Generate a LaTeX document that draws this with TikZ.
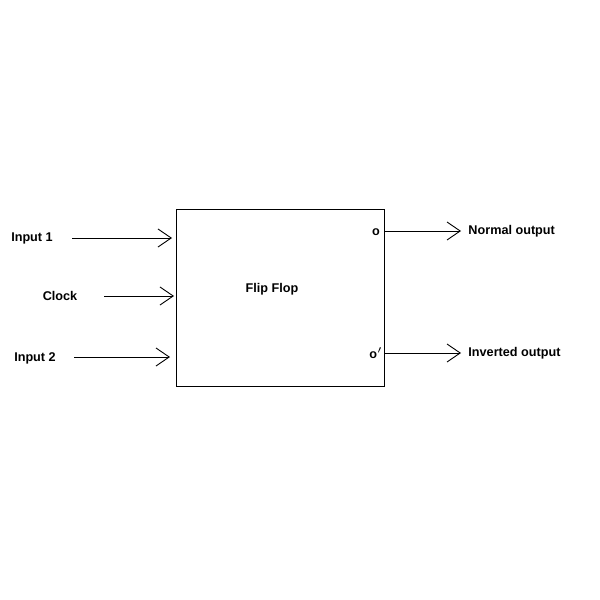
\documentclass[tikz,border=0pt]{standalone}
\usepackage{fontspec}
\setmainfont{Liberation Sans}
\usetikzlibrary{arrows.meta}
\tikzstyle{tsLabel} = [
    text=black,
    font=\fontsize{6}{7}\selectfont\bfseries
]
\tikzstyle{tsArrow} = [
    -{Straight Barb[length=2.2mm,width=3mm]}, line width=0.15mm
]
\begin{document}
\begin{tikzpicture}[x=0.016667cm, y=-0.016667cm]
        \useasboundingbox (0,0) rectangle (600,600);

        \draw[line width=0.15mm] (176,209) rectangle (384,386);
        \node[tsLabel] (ff) at (272,289) {Flip Flop};

        \node[tsLabel] (in1) at (32,238) {Input 1};
        \node[tsLabel] (clk) at (60,296) {Clock};
        \node[tsLabel] (in2) at (35,358) {Input 2};

        \coordinate (e1) at (172,238);
        \coordinate (e2) at (174,296);
        \coordinate (e3) at (170,357);
        \coordinate (s1) at (72,238);
        \coordinate (s2) at (104,296);
        \coordinate (s3) at (74,357);
        \draw[tsArrow] (s1) -- (e1);
        \draw[tsArrow] (s2) -- (e2);
        \draw[tsArrow] (s3) -- (e3);

        \node[tsLabel] (q) at (376,232) {o};
        \node[tsLabel] (qn) at (376,353) {o$'$};

        \node[tsLabel, anchor=west] (nout) at (461,231) {Normal output};
        \node[tsLabel, anchor=west] (iout) at (461,353) {Inverted output};

        \coordinate (o1) at (384,231);
        \coordinate (o2) at (384,353);
        \draw[tsArrow] (o1) -- (nout.west);
        \draw[tsArrow] (o2) -- (iout.west);
\end{tikzpicture}
\end{document}
